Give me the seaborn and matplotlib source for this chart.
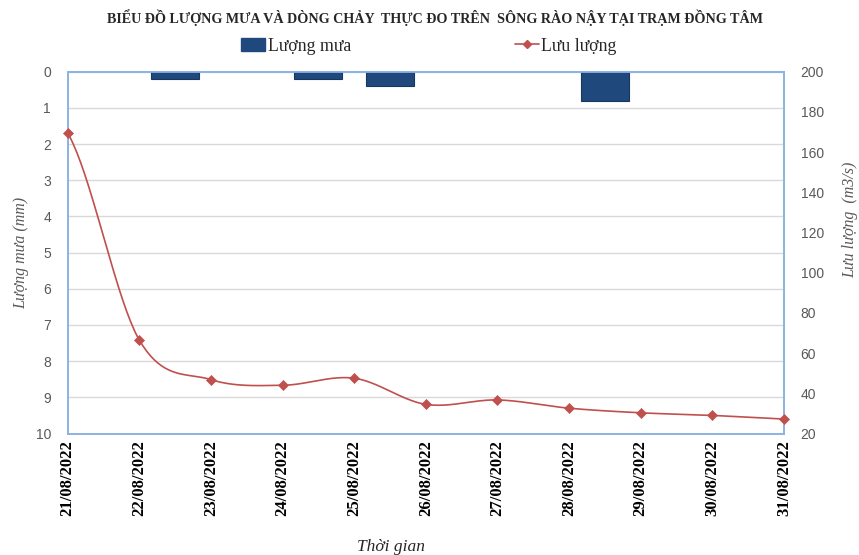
import numpy as np
import pandas as pd
import matplotlib
matplotlib.use("Agg")
import matplotlib.pyplot as plt
from matplotlib.patches import Patch
from matplotlib.lines import Line2D
import seaborn as sns

# --- data -------------------------------------------------------------
dates = ["21/08/2022", "22/08/2022", "23/08/2022", "24/08/2022", "25/08/2022",
         "26/08/2022", "27/08/2022", "28/08/2022", "29/08/2022", "30/08/2022",
         "31/08/2022"]
# daily rainfall (mm), one value per day interval 21->22 ... 30->31
rain_mm = [0.0, 0.2, 0.0, 0.2, 0.4, 0.0, 0.0, 0.8, 0.0, 0.0]
# discharge (m3/s) measured each day
flow_m3s = [169.5, 66.5, 46.8, 44.0, 47.5, 34.5, 36.7, 32.6, 30.3, 29.0, 27.2]

title = "BIỂU ĐỒ LƯỢNG MƯA VÀ DÒNG CHẢY  THỰC ĐO TRÊN  SÔNG RÀO NẬY TẠI TRẠM ĐỒNG TÂM"

BAR_COLOR = "#1F497D"
LINE_COLOR = "#C0504D"
FRAME_COLOR = "#8EB4E3"
GRID_COLOR = "#D9D9D9"
TICK_COLOR = "#595959"
SERIF = "Liberation Serif"
SANS = "Liberation Sans"

sns.set_theme(style="white")
plt.rcParams["font.family"] = [SERIF, "DejaVu Serif"]


def smooth_curve(x, y, n=40):
    """Smoothed line drawn as cubic Bezier segments.

    Interior handles follow the Catmull-Rom rule (neighbour difference / 6);
    the end segments mirror the inner handle so the curve eases out of the
    first and last points.
    """
    pts = np.column_stack([np.asarray(x, float), np.asarray(y, float)])
    m = len(pts)
    tang = np.zeros_like(pts)
    for i in range(1, m - 1):
        tang[i] = (pts[i + 1] - pts[i - 1]) / 6.0
    out = []
    t = np.linspace(0, 1, n)[:, None]
    for i in range(m - 1):
        p0, p3 = pts[i], pts[i + 1]
        c1 = p0 + tang[i]
        c2 = p3 - tang[i + 1]
        if i == 0:
            c1 = p0 + (p3 - c2)
        if i == m - 2:
            c2 = p3 - (c1 - p0)
        seg = ((1 - t) ** 3) * p0 + 3 * ((1 - t) ** 2) * t * c1 \
            + 3 * (1 - t) * t ** 2 * c2 + t ** 3 * p3
        out.append(seg if i == 0 else seg[1:])
    out = np.vstack(out)
    return out[:, 0], out[:, 1]


day_idx = np.arange(len(dates))
rain_df = pd.DataFrame({"pos": np.arange(len(rain_mm)) + 0.5, "mm": rain_mm})
flow_df = pd.DataFrame({"day": day_idx, "flow": flow_m3s})
sx, sy = smooth_curve(flow_df["day"], flow_df["flow"])
curve_df = pd.DataFrame({"day": sx, "flow": sy})

fig = plt.figure(figsize=(8.59, 5.55), dpi=100)
ax = fig.add_axes([0.0788, 0.2189, 0.8339, 0.6519])

# rainfall bars hanging from the top (inverted axis)
sns.barplot(data=rain_df, x="pos", y="mm", native_scale=True, errorbar=None,
            color=BAR_COLOR, width=0.67, saturation=1, edgecolor="#17375E",
            linewidth=0.8, ax=ax, zorder=3)
for bar in ax.patches:
    if bar.get_height() == 0:
        bar.set_visible(False)
ax.set_ylim(10, 0)
ax.set_xlim(0, len(dates) - 1)
ax.set_yticks(range(0, 11))
ax.yaxis.grid(True, color=GRID_COLOR, linewidth=1.0)
ax.set_axisbelow(True)
ax.set_xticks(day_idx)
ax.set_xticklabels(dates, rotation=90, fontsize=12, fontweight="bold",
                   family=SERIF, color="black", va="top")
ax.set_xlabel("Thời gian", fontsize=12.5, style="italic", color="#262626")
ax.xaxis.set_label_coords(0.451, -0.314)
ax.xaxis.label.set_va("center")
ax.set_ylabel("Lượng mưa (mm)", fontsize=11.5, style="italic", color=TICK_COLOR)
ax.yaxis.set_label_coords(-0.065, 0.5)
ax.yaxis.label.set_va("center")
ax.tick_params(axis="y", length=0, pad=12, labelsize=10, labelcolor=TICK_COLOR)
ax.tick_params(axis="x", length=0, pad=5)
for lab in ax.get_yticklabels():
    lab.set_family(SANS)

# discharge line on the secondary axis
ax2 = ax.twinx()
sns.lineplot(data=curve_df, x="day", y="flow", color=LINE_COLOR, linewidth=1.2,
             estimator=None, sort=False, ax=ax2, zorder=4)
sns.scatterplot(data=flow_df, x="day", y="flow", marker="D", s=26,
                color=LINE_COLOR, edgecolor=LINE_COLOR, linewidth=0.5,
                ax=ax2, zorder=5, clip_on=False)
ax2.set_ylim(20, 200)
ax2.set_yticks(range(20, 201, 20))
ax2.set_xlim(0, len(dates) - 1)
ax2.set_ylabel("Lưu lượng  (m3/s)", fontsize=11.5, style="italic",
               color=TICK_COLOR, rotation=90)
ax2.yaxis.set_label_coords(1.092, 0.59)
ax2.yaxis.label.set_va("center")
ax2.tick_params(axis="y", length=0, pad=12, labelsize=10, labelcolor=TICK_COLOR)
for lab in ax2.get_yticklabels():
    lab.set_family(SANS)
ax2.set_xlabel("")

for a in (ax, ax2):
    for sp in a.spines.values():
        sp.set_color(FRAME_COLOR)
        sp.set_linewidth(1.3)

fig.text(0.506, 0.968, title, ha="center", va="center", fontsize=10.2,
         fontweight="bold", color="#262626")

bar_handle = Patch(facecolor=BAR_COLOR, edgecolor=BAR_COLOR)
line_handle = Line2D([], [], color=LINE_COLOR, marker="D", markersize=4,
                     linewidth=1.2)
leg_kw = dict(frameon=False, fontsize=12.8, handleheight=0.7,
              handletextpad=0.15, borderaxespad=0, borderpad=0,
              loc="center left")
fig.legend([bar_handle], ["Lượng mưa"], bbox_to_anchor=(0.280, 0.917),
           handlelength=1.4, **leg_kw)
fig.legend([line_handle], ["Lưu lượng"], bbox_to_anchor=(0.600, 0.917),
           handlelength=1.3, **leg_kw)

fig.savefig("out.png", dpi=100)
